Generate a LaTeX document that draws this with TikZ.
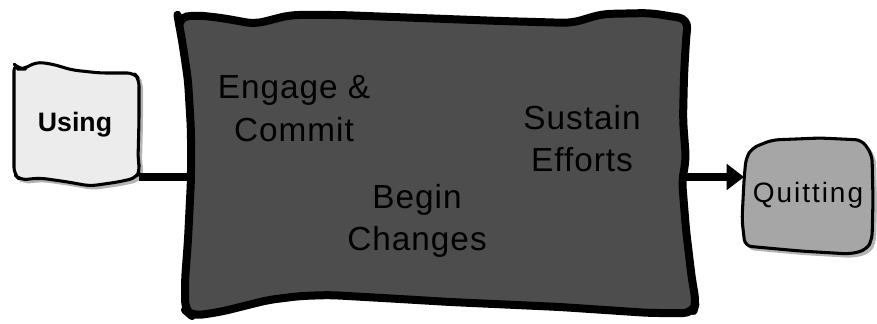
\documentclass[tikz,border=0pt]{standalone}
\usepackage{fontspec}
\setmainfont{Liberation Sans}
\usetikzlibrary{arrows.meta}
\definecolor{bigfill}{HTML}{4D4D4D}
\definecolor{usingfill}{HTML}{ECECEC}
\definecolor{quitfill}{HTML}{A6A6A6}
\definecolor{shadowgray}{HTML}{B4B4B4}
\tikzstyle{stagebox} = [draw=black, line width=6pt, fill=bigfill, rounded corners=7pt, line join=round]
\tikzstyle{endbox} = [draw=black, line width=2.3pt, rounded corners=5pt, line join=round]
\tikzstyle{shade} = [fill=shadowgray, draw=shadowgray, line width=1.5pt, rounded corners=5pt]
\tikzstyle{stagetext} = [align=center, inner sep=0pt, text=black, font=\fontsize{25}{32}\selectfont\addfontfeature{LetterSpace=3}]
\tikzstyle{link} = [draw=black, line width=6pt]

\begin{document}
\begin{tikzpicture}[x=0.75pt, y=-0.75pt]
	\useasboundingbox (0,0) rectangle (877,324);
	% shadows
	\path[shade, shift={(3,3)}] (14,64) -- (19,69) -- (24,69) -- (36,62) -- (52,64) -- (72,70) -- (100,73) -- (134,73) -- (139,79) -- (139,120) -- (138,160) -- (140,170) -- (136,178) -- (118,182) -- (90,186) -- (68,182) -- (40,178) -- (20,180) -- (14,174) -- (14,120) -- cycle;
	\path[shade, shift={(3,3)}] (746,158) -- (752,148) -- (772,140) -- (820,138) -- (862,140) -- (872,155) -- (873,200) -- (872,240) -- (866,250) -- (850,254) -- (800,251) -- (745,246) -- (742,220) -- (744,180) -- cycle;
	% boxes
	\draw[endbox, fill=usingfill] (14,64) -- (19,69) -- (24,69) -- (36,62) -- (52,64) -- (72,70) -- (100,73) -- (134,73) -- (139,79) -- (139,120) -- (138,160) -- (140,170) -- (136,178) -- (118,182) -- (90,186) -- (68,182) -- (40,178) -- (20,180) -- (14,174) -- (14,120) -- cycle;
	\draw[endbox, fill=quitfill] (746,158) -- (752,148) -- (772,140) -- (820,138) -- (862,140) -- (872,155) -- (873,200) -- (872,240) -- (866,250) -- (850,254) -- (800,251) -- (745,246) -- (742,220) -- (744,180) -- cycle;
	\draw[stagebox] (178,18) -- (195,15) -- (222,18) -- (255,24) -- (290,15) -- (340,15) -- (420,18) -- (500,21) -- (572,23) -- (602,14) -- (650,13) -- (688,19)
		-- (686,40) -- (684,75) -- (683,120) -- (686,160) -- (682,180) -- (686,230) -- (692,280) -- (696,302) -- (693,313)
		-- (650,313) -- (560,307) -- (450,302) -- (400,299) -- (330,295) -- (300,296) -- (268,300) -- (220,312) -- (192,316)
		-- (185,310) -- (185,280) -- (188,240) -- (191,180) -- (191,130) -- (188,80) -- (182,40) -- (179,24) -- cycle;
	% texts
	\node[stagetext] (engage) at (294,108.5) {Engage \&\\Commit};
	\node[stagetext] (sustain) at (582,138.5) {Sustain\\Efforts};
	\node[stagetext] (begin) at (417,221) {Begin\\Changes};
	\node[inner sep=0pt, font=\fontsize{20}{24}\selectfont\bfseries] (using) at (75,125) {Using};
	\node[inner sep=0pt, font=\fontsize{21}{25}\selectfont\addfontfeature{LetterSpace=7}] (quitting) at (808,195) {Quitting};
	% connectors
	\coordinate (usingE) at (139,177);
	\coordinate (stageW) at (189,177);
	\coordinate (stageE) at (684,177);
	\coordinate (quitW) at (744,177);
	\path[link] (usingE) -- (stageW);
	\path[link, -{Triangle[length=13pt, width=19pt]}] (stageE) -- (quitW);
\end{tikzpicture}
\end{document}
